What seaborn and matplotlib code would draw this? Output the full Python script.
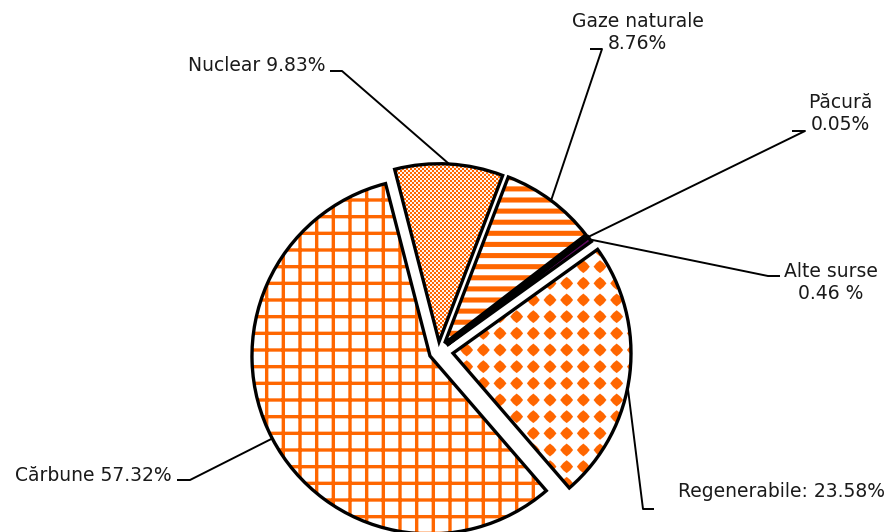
import numpy as np
import matplotlib
matplotlib.use("Agg")
import matplotlib.pyplot as plt
import matplotlib.hatch as mhatch
from matplotlib.path import Path
import seaborn as sns

# ---------------- data ----------------
categories = ["Cărbune", "Nuclear", "Gaze naturale", "Păcură", "Alte surse", "Regenerabile"]
shares = [57.32, 9.83, 8.76, 0.05, 0.46, 23.58]
label_lines = [
    ["Cărbune 57.32%"],
    ["Nuclear 9.83%"],
    ["Gaze naturale", "8.76%"],
    ["Păcură", "0.05%"],
    ["Alte surse", "0.46 %"],
    ["Regenerabile: 23.58%"],
]

# ---------------- style ----------------
ORANGE = "#FF6600"
radius = 178
explode_frac = [0.054, 0.055, 0.058, 0.058, 0.058, 0.082]
hatches = ["+", ".", "-", "", "", "O"]
face_colors = ["white", "white", "white", "white", "#5E0B5E", "white"]

W, H = 890, 532
text_pos = [(172, 481, "right"), (325, 71, "right"), (637.5, 27, "center"),
            (840, 108, "center"), (831, 277, "center"), (678, 497, "left")]
line_step = 22
elbows = [((190, 480), (177, 480)), ((342, 71), (330, 71)), ((602, 49), (590, 49)),
          ((805, 131), (792, 131)), ((768, 276), (780, 276)), ((643, 509), (654, 509))]
anchor_frac = [0.5, 0.5, 0.5, 0.5, 0.5, 0.45]


# ---------------- custom hatch textures ----------------
def _rect(x0, y0, x1, y1):
    return [(x0, y0), (x1, y0), (x1, y1), (x0, y1)]


def _blob(cx, cy, r_axis, r_diag):
    pts = []
    for k in range(8):
        t = np.pi / 4 * k
        r = r_axis if k % 2 == 0 else r_diag
        pts.append((cx + r * np.cos(t), cy + r * np.sin(t)))
    return pts


class TextureHatch(mhatch.HatchPatternBase):
    def __init__(self, hatch, density):
        polys = []
        if "+" in hatch:          # square grid
            n, w = 6, 0.033
            for i in range(n + 1):
                p = i / n
                polys.append(_rect(p - w / 2, -0.1, p + w / 2, 1.1))
                polys.append(_rect(-0.1, p - w / 2, 1.1, p + w / 2))
        if "-" in hatch:          # thick horizontal stripes
            n, w = 9, 0.05
            for i in range(n + 1):
                p = i / n
                polys.append(_rect(-0.1, p - w / 2, 1.1, p + w / 2))
        if "O" in hatch:          # rounded diamonds, aligned grid
            n = 6
            for i in range(n + 1):
                for j in range(n + 1):
                    polys.append(_blob(i / n, j / n, 0.064, 0.05))
        if "." in hatch:          # fine checkerboard
            n = 50
            s = 1.0 / n
            for i in range(n):
                for j in range(n):
                    if (i + j) % 2 == 0:
                        polys.append(_rect(i * s, j * s, (i + 1) * s, (j + 1) * s))
        self.polys = polys
        self.num_vertices = sum(len(p) + 1 for p in polys)

    def set_vertices_and_codes(self, vertices, codes):
        k = 0
        for p in self.polys:
            m = len(p)
            vertices[k:k + m] = p
            vertices[k + m] = p[0]
            codes[k] = Path.MOVETO
            codes[k + 1:k + m] = Path.LINETO
            codes[k + m] = Path.CLOSEPOLY
            k += m + 1


mhatch._hatch_types[:] = [TextureHatch]

sns.set_style("white")
plt.rcParams["font.family"] = ["DejaVu Sans"]
plt.rcParams["hatch.linewidth"] = 0.05

fig = plt.figure(figsize=(W / 100, H / 100), dpi=100)
fig.patch.set_facecolor("white")
ax = fig.add_axes([0, 0, 1, 1])

center = (438.5, H - 351.5)
start = -49.2
explode = [f * radius for f in explode_frac]   # pie explode is in data units

# textured fill layer
wedges, _ = ax.pie(shares, explode=explode, startangle=start, counterclock=False,
                   radius=radius, center=center, frame=True,
                   wedgeprops=dict(linewidth=0))
for w, h, fc in zip(wedges, hatches, face_colors):
    w.set_facecolor(fc)
    w.set_edgecolor(ORANGE)
    w.set_linewidth(0)
    w.set_hatch(h)

# black outline layer
outlines, _ = ax.pie(shares, explode=explode, startangle=start, counterclock=False,
                     radius=radius, center=center, frame=True,
                     wedgeprops=dict(fill=False, edgecolor="black", linewidth=2.4))

# labels with leader lines
for w, lines, (tx, ty, ha), (e1, e2), f in zip(wedges, label_lines, text_pos, elbows, anchor_frac):
    ang = np.deg2rad(w.theta1 + f * (w.theta2 - w.theta1))
    cx, cy = w.center
    px, py = cx + w.r * np.cos(ang), cy + w.r * np.sin(ang)
    ax.plot([px, e1[0], e2[0]], [py, H - e1[1], H - e2[1]], color="black",
            linewidth=1.4, solid_capstyle="butt", zorder=5)
    for k, line in enumerate(lines):
        ax.text(tx, H - (ty + k * line_step), line, ha=ha, va="baseline",
                fontsize=13.5, color="#1a1a1a", zorder=6)

ax.set_xlim(0, W)
ax.set_ylim(0, H)
ax.set_aspect("equal")
ax.axis("off")

fig.savefig("out.png", dpi=100, facecolor="white")
